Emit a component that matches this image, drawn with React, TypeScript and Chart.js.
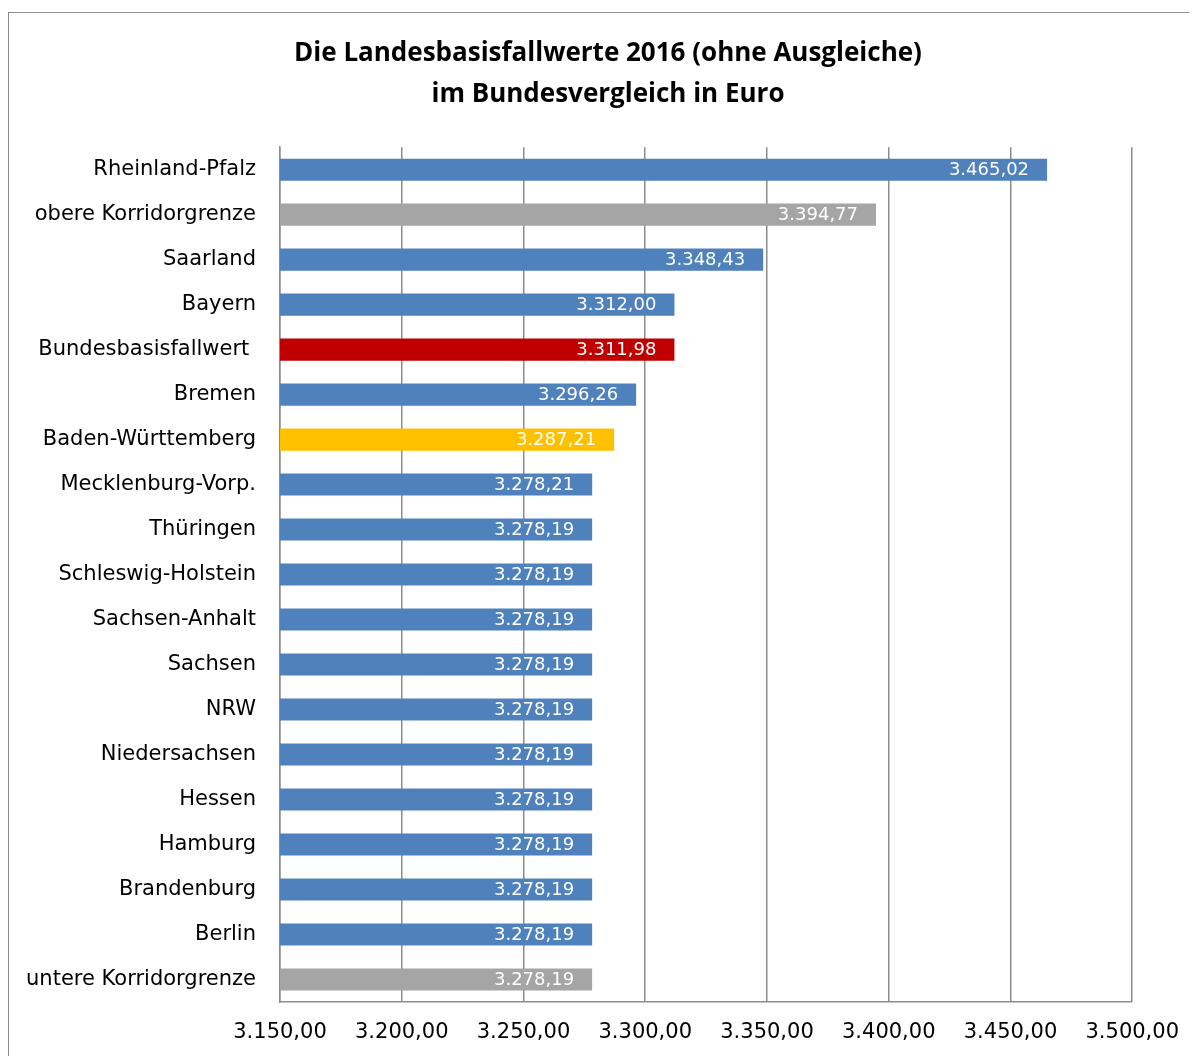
import React, { useEffect, useRef } from "react";
import { Chart, registerables } from "chart.js";

Chart.register(...registerables);

const titleLines = [
  "Die Landesbasisfallwerte 2016 (ohne Ausgleiche)",
  "im Bundesvergleich in Euro",
];

const categories = [
  "Rheinland-Pfalz",
  "obere Korridorgrenze",
  "Saarland",
  "Bayern",
  "Bundesbasisfallwert ",
  "Bremen",
  "Baden-Württemberg",
  "Mecklenburg-Vorp.",
  "Thüringen",
  "Schleswig-Holstein",
  "Sachsen-Anhalt",
  "Sachsen",
  "NRW",
  "Niedersachsen",
  "Hessen",
  "Hamburg",
  "Brandenburg",
  "Berlin",
  "untere Korridorgrenze",
];

const values = [
  3465.02, 3394.77, 3348.43, 3312.0, 3311.98, 3296.26, 3287.21, 3278.21,
  3278.19, 3278.19, 3278.19, 3278.19, 3278.19, 3278.19, 3278.19, 3278.19,
  3278.19, 3278.19, 3278.19,
];

const BLUE = "#4F81BD";
const GRAY = "#A5A5A5";
const RED = "#C00000";
const YELLOW = "#FFC000";

const barColors = [
  BLUE, GRAY, BLUE, BLUE, RED, BLUE, YELLOW, BLUE, BLUE, BLUE, BLUE, BLUE,
  BLUE, BLUE, BLUE, BLUE, BLUE, BLUE, GRAY,
];

const axisMin = 3150;
const axisMax = 3500;
const axisStep = 50;

function fmt(v: number): string {
  const s = v.toFixed(2);
  const [i, d] = s.split(".");
  return i.replace(/\B(?=(\d{3})+(?!\d))/g, ".") + "," + d;
}

const valueLabels = {
  id: "valueLabels",
  afterDatasetsDraw(chart: any) {
    const ctx = chart.ctx;
    const meta = chart.getDatasetMeta(0);
    ctx.save();
    ctx.font = "18px 'DejaVu Sans'";
    ctx.fillStyle = "#ffffff";
    ctx.textAlign = "right";
    ctx.textBaseline = "middle";
    meta.data.forEach((bar: any, idx: number) => {
      const v = chart.data.datasets[0].data[idx] as number;
      ctx.fillText(fmt(v), bar.x - 18, bar.y + 1);
    });
    ctx.restore();
  },
};

const centerTitle = {
  id: "centerTitle",
  afterLayout(chart: any) {
    const tb = chart.titleBlock;
    if (tb) {
      tb.left = 0;
      tb.right = chart.width + 10;
      tb.width = tb.right - tb.left;
    }
  },
};

export default function App() {
  const ref = useRef<HTMLCanvasElement | null>(null);

  useEffect(() => {
    if (!ref.current) return;
    const gridColor = "#8c8c8c";
    const chart = new Chart(ref.current, {
      type: "bar",
      data: {
        labels: categories,
        datasets: [
          {
            data: values,
            backgroundColor: barColors,
            borderWidth: 0,
            barPercentage: 0.49,
            categoryPercentage: 1,
          },
        ],
      },
      options: {
        indexAxis: "y",
        animation: false,
        responsive: true,
        maintainAspectRatio: false,
        layout: { padding: { left: 0, right: 59, top: 0, bottom: 0 } },
        plugins: {
          legend: { display: false },
          tooltip: { enabled: false },
          title: {
            display: true,
            text: titleLines,
            color: "#000",
            font: { family: "Open Sans", size: 26, weight: "bold", lineHeight: 1.58 },
            padding: { top: 20, bottom: 32 },
          },
        },
        scales: {
          x: {
            min: axisMin,
            max: axisMax,
            afterFit: (scale: any) => {
              scale.height = 54;
            },
            ticks: {
              stepSize: axisStep,
              callback: (v: any) => fmt(Number(v)),
              color: "#000",
              font: { family: "DejaVu Sans", size: 21 },
              padding: 18,
              maxRotation: 0,
            },
            grid: { color: gridColor, lineWidth: 1.5, drawTicks: false },
            border: { display: true, color: gridColor, width: 1.5 },
          },
          y: {
            afterFit: (scale: any) => {
              scale.width = 271;
            },
            ticks: {
              color: "#000",
              font: { family: "DejaVu Sans", size: 21 },
              padding: 24,
              autoSkip: false,
            },
            grid: { display: false, drawTicks: false },
            border: { display: true, color: gridColor, width: 1.5 },
          },
        },
      },
      plugins: [valueLabels, centerTitle],
    });
    return () => chart.destroy();
  }, []);

  return (
    <div
      style={{
        marginTop: 4,
        width: 1189,
        height: 1044,
        boxSizing: "border-box",
        borderTop: "1px solid #8c8c8c",
        borderLeft: "1px solid #8c8c8c",
        background: "#fff",
      }}
    >
      <div style={{ position: "relative", width: 1188, height: 1043 }}>
        <canvas ref={ref} />
      </div>
    </div>
  );
}
